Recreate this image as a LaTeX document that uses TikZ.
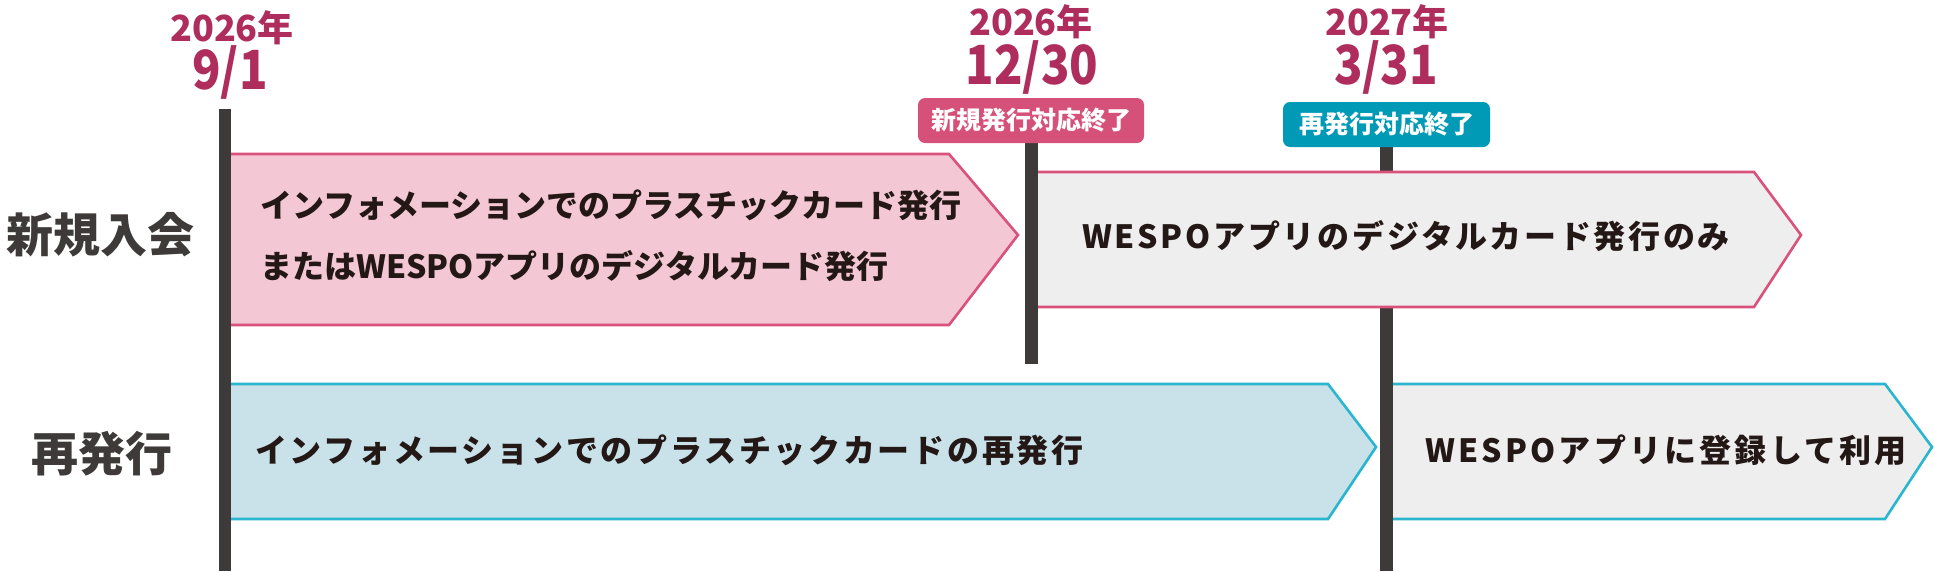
\documentclass[tikz,border=0pt]{standalone}
\usepackage{graphicx}
\usepackage{fontspec}
\newfontfamily\jp{Noto Sans CJK JP}
\newfontfamily\jpsp{Noto Sans CJK JP}[LetterSpace=8.5]
\newfontfamily\jpspw{Noto Sans CJK JP}[LetterSpace=10]
\definecolor{datecol}{HTML}{AE2D5C}
\definecolor{barcol}{HTML}{3E3A39}
\definecolor{pinkfill}{HTML}{F3C7D4}
\definecolor{pinkline}{HTML}{D8527B}
\definecolor{badgepink}{HTML}{D6517A}
\definecolor{badgeblue}{HTML}{009AB7}
\definecolor{bluefill}{HTML}{C9E2EA}
\definecolor{blueline}{HTML}{2BB6CF}
\definecolor{grayfill}{HTML}{EEEEEE}
\definecolor{txtcol}{HTML}{231815}
\newcommand{\narrowtxt}[1]{\scalebox{0.87}[1]{#1}}
\tikzset{
  pinkshape/.style={draw=pinkline, line width=2.6pt, fill=pinkfill, line join=miter},
  blueshape/.style={draw=blueline, line width=2.6pt, fill=bluefill, line join=miter},
  grayshape/.style={line width=2.6pt, fill=grayfill, line join=miter},
  bar/.style={draw=none, fill=barcol},
  yearlbl/.style={text=datecol, inner sep=0pt, font=\jp\bfseries\fontsize{36}{40}\selectfont},
  datelbl/.style={text=datecol, inner sep=0pt, font=\jp\bfseries\fontsize{54}{58}\selectfont},
  badge/.style={rounded corners=7pt, inner sep=0pt, minimum height=45pt, text=white, font=\jp\bfseries\fontsize{25}{28}\selectfont},
  rowlbl/.style={text=barcol, inner sep=0pt, font=\jp\bfseries\fontsize{47}{52}\selectfont},
  boxtxt/.style={text=txtcol, inner sep=0pt, anchor=west, font=\jp\bfseries\fontsize{32}{36}\selectfont},
  boxtxtsp/.style={text=txtcol, inner sep=0pt, anchor=west, font=\jpsp\bfseries\fontsize{32}{36}\selectfont},
  boxtxtspw/.style={text=txtcol, inner sep=0pt, anchor=west, font=\jpspw\bfseries\fontsize{32}{36}\selectfont},
}
\begin{document}
\begin{tikzpicture}[x=1pt,y=-1pt]
\useasboundingbox (0,0) rectangle (1935,571);
% arrow shapes
\draw[pinkshape] (222,154) -- (949,154) -- (1018,235) -- (949,325) -- (222,325) -- cycle;
\draw[blueshape] (222,384) -- (1328,384) -- (1376,447) -- (1328,519) -- (222,519) -- cycle;
\draw[grayshape, draw=blueline] (1385,384) -- (1885,384) -- (1932,447) -- (1885,519) -- (1385,519) -- cycle;
% bar 3
\fill[bar] (1380,147) rectangle (1393,571);
\draw[grayshape, draw=pinkline] (1030,172) -- (1754,172) -- (1801,235) -- (1754,307) -- (1030,307) -- cycle;
% bars 1 and 2
\fill[bar] (219,109) rectangle (231,571);
\fill[bar] (1025,142) rectangle (1038,364);
% badges
\node[badge, fill=badgepink, minimum width=226pt] (b1) at (1031,120.5) {新規発行対応終了};
\node[badge, fill=badgeblue, minimum width=207pt] (b2) at (1386.5,124.5) {再発行対応終了};
% dates
\node[yearlbl] (y1) at (232,28) {2026年};
\node[datelbl] (d1) at (230,72) {\narrowtxt{9/1}};
\node[yearlbl] (y2) at (1031,22) {2026年};
\node[datelbl] (d2) at (1032,67) {\narrowtxt{12/30}};
\node[yearlbl] (y3) at (1387,22) {2027年};
\node[datelbl] (d3) at (1386,67) {\narrowtxt{3/31}};
% row labels
\node[rowlbl] (r1) at (100,235) {新規入会};
\node[rowlbl] (r2) at (102,454) {再発行};
% box texts
\node[boxtxt] (t1) at (260,205) {インフォメーションでのプラスチックカード発行};
\node[boxtxt] (t2) at (260,266) {またはWESPOアプリのデジタルカード発行};
\node[boxtxtsp] (t3) at (1082,236) {WESPOアプリのデジタルカード発行のみ};
\node[boxtxtsp] (t4) at (255,450) {インフォメーションでのプラスチックカードの再発行};
\node[boxtxtspw] (t5) at (1425,450) {WESPOアプリに登録して利用};
\end{tikzpicture}
\end{document}
